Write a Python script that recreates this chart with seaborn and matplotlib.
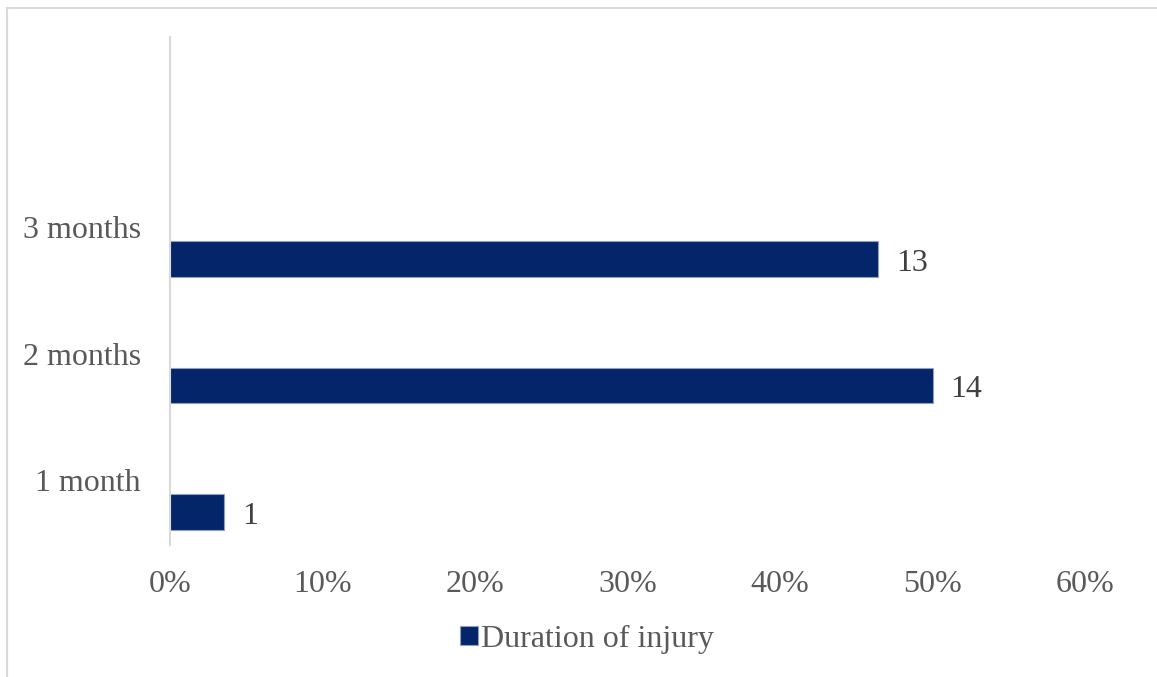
import matplotlib
matplotlib.use("Agg")
import matplotlib.pyplot as plt
import seaborn as sns
import pandas as pd
from matplotlib.lines import Line2D
from matplotlib.patches import Patch
from matplotlib.ticker import PercentFormatter

categories = ["3 months", "2 months", "1 month"]
counts = [13, 14, 1]
percents = [46.43, 50.0, 3.57]
series_name = "Duration of injury"
x_ticks = [0, 10, 20, 30, 40, 50, 60]

df = pd.DataFrame({"category": categories, "percent": percents, "count": counts})

sns.set_theme(style="white")
plt.rcParams["font.family"] = ["Liberation Serif", "DejaVu Serif"]

W, H = 1157, 677
fig = plt.figure(figsize=(W / 100, H / 100), dpi=100)
ax = fig.add_axes([170 / W, 1 - 545 / H, (1085 - 170) / W, (545 - 37) / H])

bar_color = "#05256A"
sns.barplot(data=df, x="percent", y="category", order=categories, orient="h",
            color=bar_color, width=0.28, edgecolor="#8FA0BF", linewidth=0.8,
            saturation=1, ax=ax)

ax.set_xlim(0, 60)
ax.set_ylim(2.26, -1.755)
ax.set_xticks(x_ticks)
ax.xaxis.set_major_formatter(PercentFormatter(decimals=0))
ax.set_yticks([i - 0.25 for i in range(len(categories))])
ax.set_yticklabels(categories)
ax.tick_params(axis="both", length=0, labelsize=23, labelcolor="#595959")
ax.tick_params(axis="x", pad=18)
ax.tick_params(axis="y", pad=21)
ax.set_xlabel("")
ax.set_ylabel("")
for s in ["top", "right", "bottom"]:
    ax.spines[s].set_visible(False)
ax.spines["left"].set_color("#D9D9D9")
ax.spines["left"].set_linewidth(1.5)

for i, (p, c) in enumerate(zip(percents, counts)):
    ax.annotate(str(c), xy=(p, i), xytext=(13, -3), textcoords="offset points",
                va="center", ha="left", fontsize=23, color="#404040")

handles = [Patch(facecolor=bar_color, edgecolor="#8FA0BF", linewidth=0.8)]
fig.legend(handles, [series_name], loc="center", bbox_to_anchor=(587 / W, 1 - 639 / H),
           frameon=False, fontsize=23, labelcolor="#595959", handlelength=0.55,
           handleheight=0.55, handletextpad=0.1)

fig.add_artist(Line2D([7 / W, 1], [1 - 8 / H, 1 - 8 / H], color="#D9D9D9", linewidth=1.5,
                      transform=fig.transFigure))
fig.add_artist(Line2D([7 / W, 7 / W], [0, 1 - 8 / H], color="#D9D9D9", linewidth=1.5,
                      transform=fig.transFigure))

fig.savefig("out.png", dpi=100)
